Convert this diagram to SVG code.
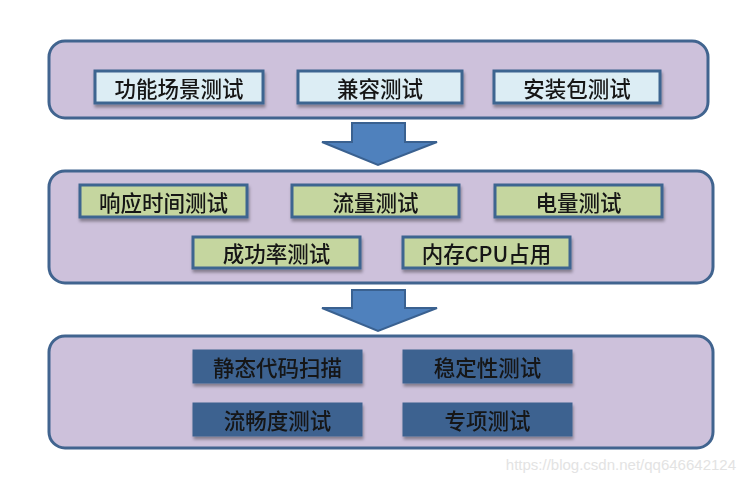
<svg xmlns="http://www.w3.org/2000/svg" width="745" height="482" viewBox="0 0 745 482">
<defs>
<filter id="sh" x="-10%" y="-20%" width="120%" height="160%">
<feDropShadow dx="1" dy="3" stdDeviation="1.5" flood-color="#000" flood-opacity="0.35"/>
</filter>
<style>
.panel{fill:#cdc1db;stroke:#41648f;stroke-width:3}
.b1{fill:#dcedf4;stroke:#3e6590;stroke-width:3}
.b2{fill:#c5d69f;stroke:#3e6590;stroke-width:3}
.b3{fill:#3d6290;stroke:#3d6290;stroke-width:1}
.t{font-family:"Noto Sans CJK SC","Liberation Sans",sans-serif;font-size:21.5px;font-weight:500;fill:#141414;text-anchor:middle;dominant-baseline:central}
.arrow{fill:#4f81bd;stroke:#3a6190;stroke-width:2}
</style>
</defs>
<rect width="745" height="482" fill="#fff"/>
<g id="panel1"><rect class="panel" x="49" y="41" width="659" height="77" rx="16"/></g>
<g id="panel2"><rect class="panel" x="49" y="171" width="664" height="112" rx="16"/></g>
<g id="panel3"><rect class="panel" x="49" y="336" width="664" height="112" rx="16"/></g>
<g id="connectors">
<polygon class="arrow" points="352,123 405,123 405,142 437,142 378,165 322,142 352,142"/>
<polygon class="arrow" points="352,290 405,290 405,308 437,308 378,331 322,308 352,308"/>
</g>
<g id="n1" filter="url(#sh)"><rect class="b1" x="95" y="71" width="168" height="32"/><text class="t" x="179" y="87">功能场景测试</text></g>
<g id="n2" filter="url(#sh)"><rect class="b1" x="298" y="71" width="164" height="32"/><text class="t" x="380" y="87">兼容测试</text></g>
<g id="n3" filter="url(#sh)"><rect class="b1" x="494" y="71" width="166" height="32"/><text class="t" x="577" y="87">安装包测试</text></g>
<g id="n4" filter="url(#sh)"><rect class="b2" x="80" y="185" width="167" height="32"/><text class="t" x="163.5" y="201">响应时间测试</text></g>
<g id="n5" filter="url(#sh)"><rect class="b2" x="292" y="185" width="167" height="32"/><text class="t" x="375.5" y="201">流量测试</text></g>
<g id="n6" filter="url(#sh)"><rect class="b2" x="495" y="185" width="167" height="32"/><text class="t" x="578.5" y="201">电量测试</text></g>
<g id="n7" filter="url(#sh)"><rect class="b2" x="193" y="237" width="167" height="31"/><text class="t" x="276.5" y="252.5">成功率测试</text></g>
<g id="n8" filter="url(#sh)"><rect class="b2" x="403" y="237" width="167" height="31"/><text class="t" x="486.5" y="252.5">内存CPU占用</text></g>
<g id="n9" filter="url(#sh)"><rect class="b3" x="193" y="350" width="169" height="33"/><text class="t" x="277.5" y="366.5">静态代码扫描</text></g>
<g id="n10" filter="url(#sh)"><rect class="b3" x="403" y="350" width="169" height="33"/><text class="t" x="487.5" y="366.5">稳定性测试</text></g>
<g id="n11" filter="url(#sh)"><rect class="b3" x="193" y="403" width="169" height="33"/><text class="t" x="277.5" y="419.5">流畅度测试</text></g>
<g id="n12" filter="url(#sh)"><rect class="b3" x="403" y="403" width="169" height="33"/><text class="t" x="487.5" y="419.5">专项测试</text></g>
<text x="736" y="470" font-family="Liberation Sans, sans-serif" font-size="15" fill="#e3e3e3" text-anchor="end">https://blog.csdn.net/qq646642124</text>
</svg>
